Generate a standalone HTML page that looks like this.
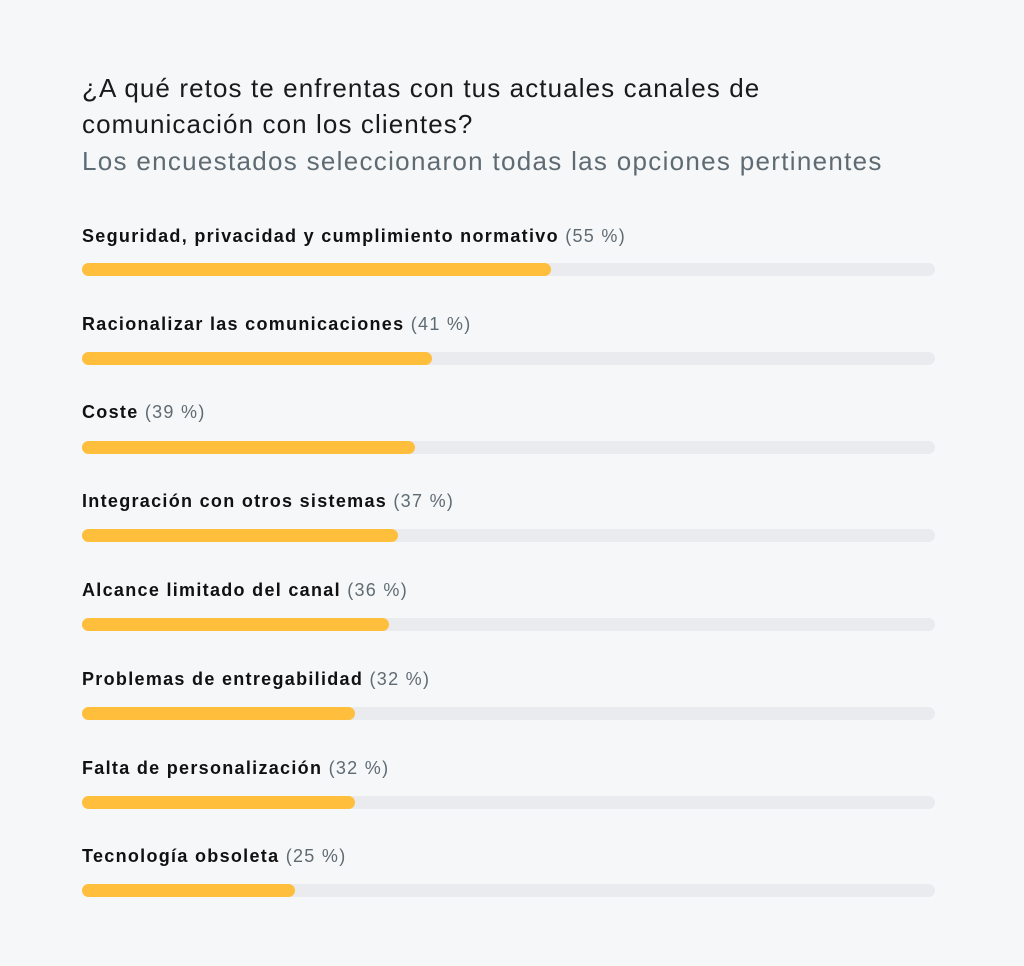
<!DOCTYPE html>
<html><head><meta charset="utf-8"><style>
body{margin:0;background:#f6f7f9;width:1024px;height:966px;position:relative;font-family:"Liberation Sans",sans-serif;overflow:hidden}
.t{position:absolute;left:82px;white-space:nowrap}
.h{font-size:26px;color:#1a1a1a;line-height:36px;letter-spacing:1.1px}
.s{font-size:26px;color:#5f6b73;letter-spacing:1.3px}
.l{font-size:18px;font-weight:bold;color:#111;letter-spacing:1.3px}
.l span{font-weight:normal;color:#5f6b73;letter-spacing:1.3px}
.tr{position:absolute;left:82px;width:853px;height:13px;border-radius:7px;background:#e9ebee}
.b{height:13px;border-radius:7px;background:#ffbe3c}
</style></head><body>
<div class="t h" style="top:70px">¿A qué retos te enfrentas con tus actuales canales de<br>comunicación con los clientes?</div>
<div class="t s" style="top:146px">Los encuestados seleccionaron todas las opciones pertinentes</div>

<div class="t l" style="top:226px">Seguridad, privacidad y cumplimiento normativo <span>(55 %)</span></div>
<div class="tr" style="top:263px"><div class="b" style="width:469px"></div></div>
<div class="t l" style="top:314px">Racionalizar las comunicaciones <span>(41 %)</span></div>
<div class="tr" style="top:352px"><div class="b" style="width:350px"></div></div>
<div class="t l" style="top:402px">Coste <span>(39 %)</span></div>
<div class="tr" style="top:441px"><div class="b" style="width:333px"></div></div>
<div class="t l" style="top:491px">Integración con otros sistemas <span>(37 %)</span></div>
<div class="tr" style="top:529px"><div class="b" style="width:316px"></div></div>
<div class="t l" style="top:580px">Alcance limitado del canal <span>(36 %)</span></div>
<div class="tr" style="top:618px"><div class="b" style="width:307px"></div></div>
<div class="t l" style="top:669px">Problemas de entregabilidad <span>(32 %)</span></div>
<div class="tr" style="top:707px"><div class="b" style="width:273px"></div></div>
<div class="t l" style="top:758px">Falta de personalización <span>(32 %)</span></div>
<div class="tr" style="top:796px"><div class="b" style="width:273px"></div></div>
<div class="t l" style="top:846px">Tecnología obsoleta <span>(25 %)</span></div>
<div class="tr" style="top:884px"><div class="b" style="width:213px"></div></div>
</body></html>
